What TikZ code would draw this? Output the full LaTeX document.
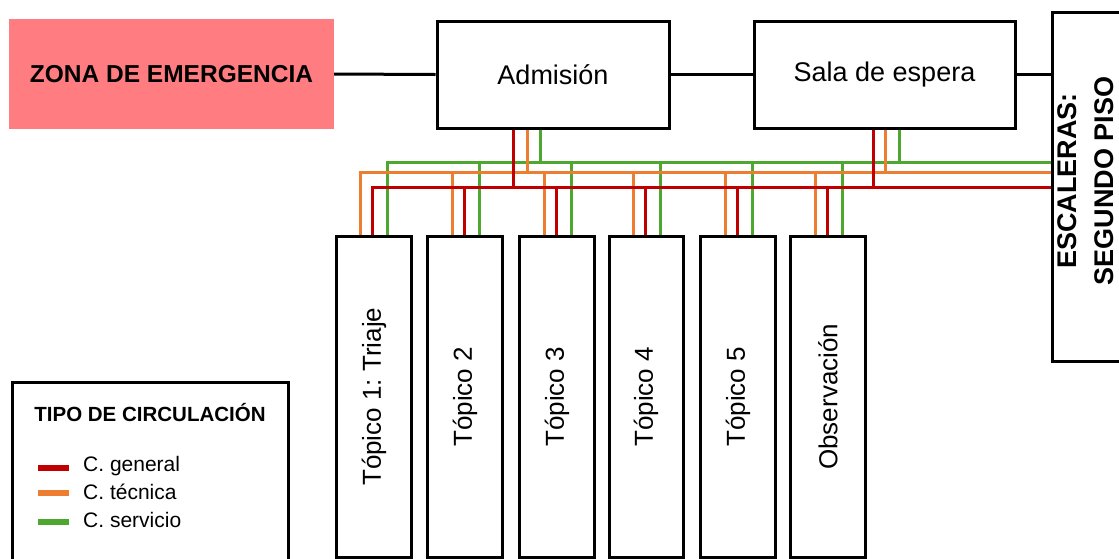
\documentclass[tikz,border=0pt]{standalone}
\usepackage{fontspec}
\setmainfont{Liberation Sans}
\usetikzlibrary{calc}
\frenchspacing
\definecolor{cgen}{HTML}{C00000}
\definecolor{ctec}{HTML}{ED7D31}
\definecolor{cser}{HTML}{4EA72E}
\definecolor{zonefill}{HTML}{FF7C80}
\tikzset{
  x=1pt, y=-1pt,
  box/.style={draw=black, line width=3pt, fill=white, inner sep=0pt},
  topicbox/.style={box, minimum width=75pt, minimum height=321.5pt},
  conn/.style={draw=black, line width=3pt},
  lg/.style={draw=cgen, line width=3pt},
  lt/.style={draw=ctec, line width=3pt},
  ls/.style={draw=cser, line width=3pt},
  lbl/.style={font=\fontsize{27}{32}\selectfont, inner sep=0pt},
  toplbl/.style={font=\fontsize{26}{31}\selectfont, inner sep=0pt, rotate=90},
  legtext/.style={font=\fontsize{21}{25}\selectfont, anchor=west, inner sep=0pt},
}
\begin{document}
\begin{tikzpicture}
\useasboundingbox (0,0) rectangle (1119,558);
\clip (0,0) rectangle (1119,558);
\fill[white] (0,0) rectangle (1119,558);

% bus levels
\coordinate (gy) at (0,162);
\coordinate (oy) at (0,172);
\coordinate (ry) at (0,187);

% top row
\node[fill=zonefill, minimum width=325pt, minimum height=110pt, inner sep=0pt,
      font=\fontsize{24.5}{29}\selectfont\bfseries] (zone) at (171.5,74) {ZONA DE EMERGENCIA};
\node[box, minimum width=232pt, minimum height=107pt, lbl] (adm) at (553,74.5) {Admisión};
\node[box, minimum width=261pt, minimum height=107pt, lbl] (sala) at (884.5,74.5) {Sala de espera};
\node[box, minimum width=100pt, minimum height=349pt] (esc) at (1102,186.5) {};
\node[rotate=90, align=center, inner sep=0pt, font=\fontsize{27}{37}\selectfont\bfseries] (esclbl) at (1086,181) {ESCALERAS:\\SEGUNDO PISO};

\draw[conn] (zone.east) -- (adm.west);
\draw[conn] (adm.east) -- (sala.west);
\draw[conn] (sala.east) -- (sala.east -| esc.west);

% topic boxes
\node[topicbox] (t1) at (374,396.75) {};
\node[topicbox] (t2) at (465,396.75) {};
\node[topicbox] (t3) at (557,396.75) {};
\node[topicbox, minimum width=74pt] (t4) at (646,396.75) {};
\node[topicbox] (t5) at (738,396.75) {};
\node[topicbox] (t6) at (828,396.75) {};
\node[toplbl] (t1l) at (t1) {Tópico 1: Triaje};
\node[toplbl] (t2l) at (t2) {Tópico 2};
\node[toplbl] (t3l) at (t3) {Tópico 3};
\node[toplbl] (t4l) at (t4) {Tópico 4};
\node[toplbl] (t5l) at (t5) {Tópico 5};
\node[toplbl] (t6l) at (t6) {Observación};

% circulation network
% green (servicio)
\draw[ls] ($(t1.north)+(13,0)$) |- (esc.west |- gy);
\foreach \n in {t2,t3,t4,t5,t6}
  \draw[ls] ($(\n.north)+(14,0)$) -- ($(\n.north |- gy)+(14,0)$);
\draw[ls] ($(adm.south)+(-13,0)$) -- ($(adm.south |- gy)+(-13,0)$);
\draw[ls] ($(sala.south)+(14.5,0)$) -- ($(sala.south |- gy)+(14.5,0)$);
% orange (tecnica)
\draw[lt] ($(t1.north)+(-14,0)$) |- (esc.west |- oy);
\foreach \n in {t2,t3,t4,t5,t6}
  \draw[lt] ($(\n.north)+(-13,0)$) -- ($(\n.north |- oy)+(-13,0)$);
\draw[lt] ($(adm.south)+(-26,0)$) -- ($(adm.south |- oy)+(-26,0)$);
\draw[lt] ($(sala.south)+(1,0)$) -- ($(sala.south |- oy)+(1,0)$);
% red (general)
\draw[lg] ($(t1.north)+(-2,0)$) |- (esc.west |- ry);
\foreach \n in {t2,t3,t4,t5,t6}
  \draw[lg] ($(\n.north)+(-1,0)$) -- ($(\n.north |- ry)+(-1,0)$);
\draw[lg] ($(adm.south)+(-40,0)$) -- ($(adm.south |- ry)+(-40,0)$);
\draw[lg] ($(sala.south)+(-11.5,0)$) -- ($(sala.south |- ry)+(-11.5,0)$);

% legend
\node[box, minimum width=276pt, minimum height=190pt] (leg) at (150,477) {};
\node[inner sep=0pt, font=\fontsize{20.5}{24}\selectfont\bfseries] (legt) at (150,413) {TIPO DE CIRCULACIÓN};
\coordinate (lga) at (38,468);
\coordinate (lgb) at (69,468);
\coordinate (lta) at (38,493);
\coordinate (ltb) at (69,493);
\coordinate (lsa) at (38,522);
\coordinate (lsb) at (69,522);
\draw[draw=cgen, line width=5.5pt] (lga) -- (lgb);
\draw[draw=ctec, line width=5.5pt] (lta) -- (ltb);
\draw[draw=cser, line width=5.5pt] (lsa) -- (lsb);
\node[legtext] (lgl) at (83,466) {C. general};
\node[legtext] (ltl) at (83,492) {C. técnica};
\node[legtext] (lsl) at (83,520) {C. servicio};
\end{tikzpicture}
\end{document}
